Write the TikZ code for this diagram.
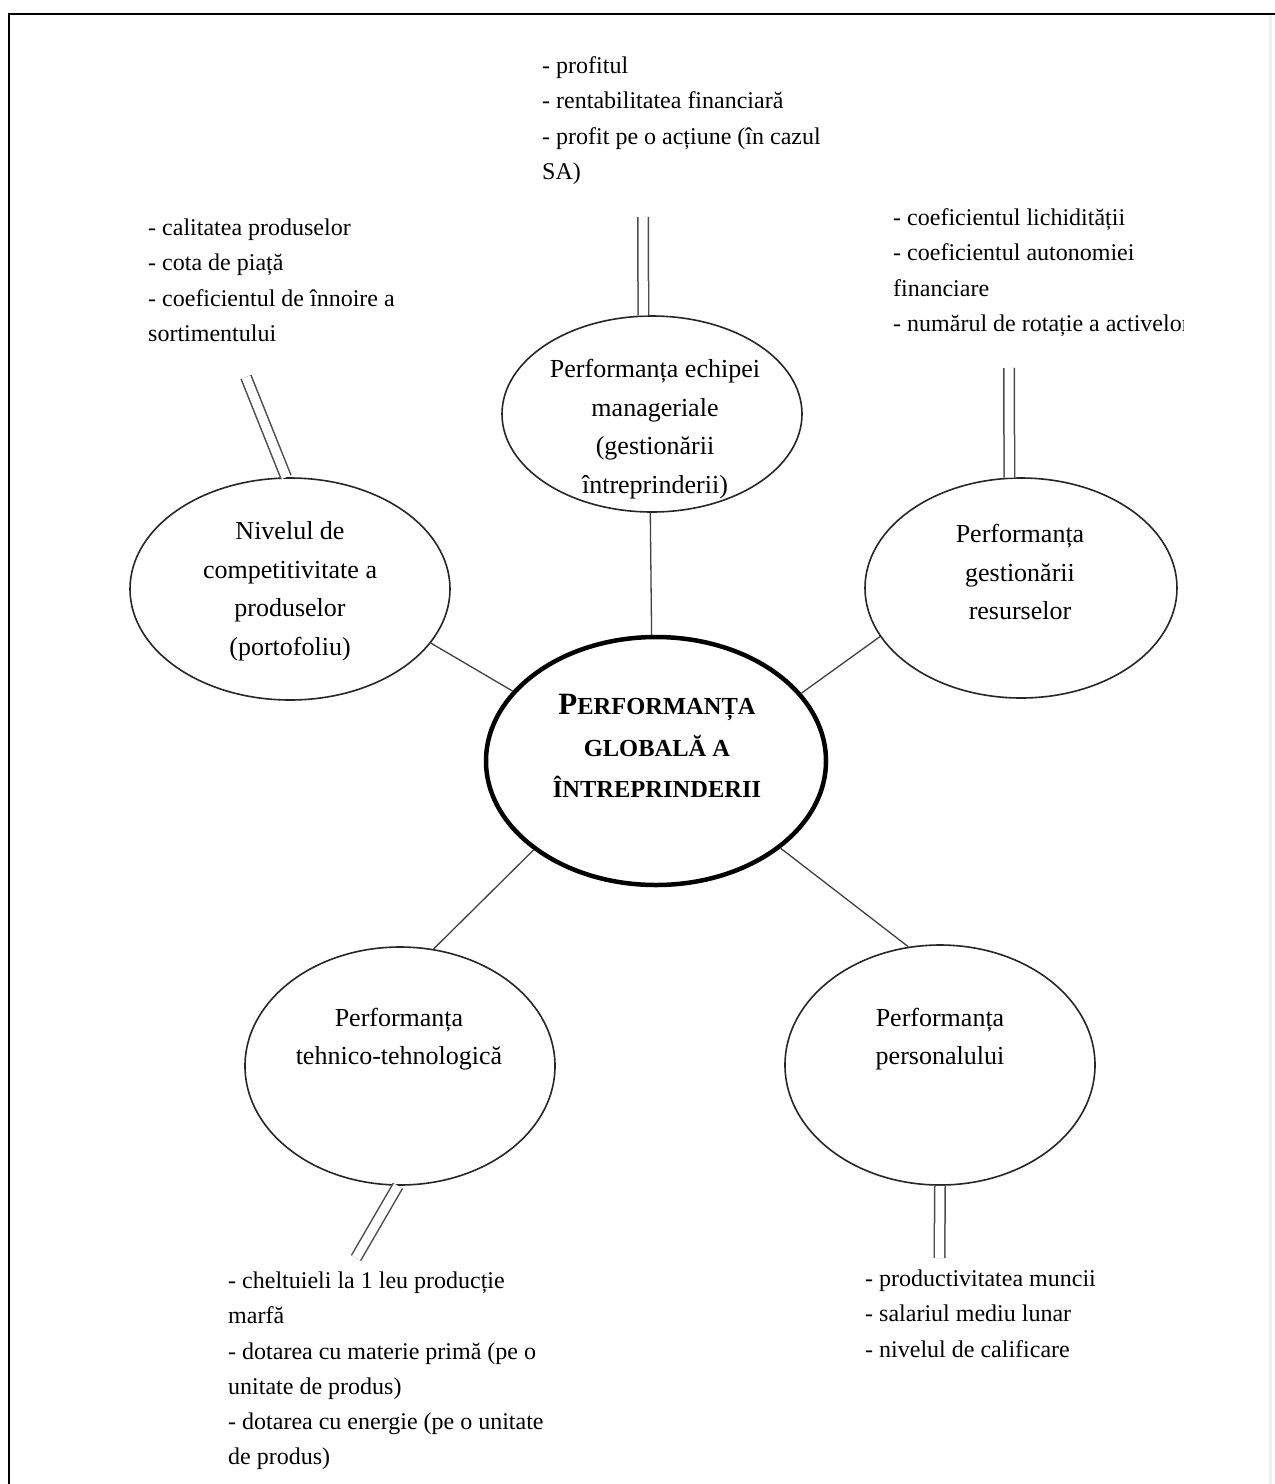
\documentclass[tikz,border=0pt]{standalone}
\usepackage{fontspec}
\setmainfont{Liberation Serif}
\usetikzlibrary{shapes.geometric}
\newcommand\initialcap[1]{{\fontsize{31}{41.5}\selectfont #1}}
\begin{document}
\begin{tikzpicture}[x=1pt,y=-1pt,
  oval/.style={ellipse, draw=black!85, line width=1.6pt, fill=white, inner sep=0pt},
  hub/.style={ellipse, draw=black, line width=4.5pt, fill=white, inner sep=0pt,
    minimum width=340pt, minimum height=248pt},
  ovaltext/.style={align=center, inner sep=0pt, font=\fontsize{26}{38.5}\selectfont},
  coretext/.style={align=center, inner sep=0pt, font=\bfseries\fontsize{24.5}{41.5}\selectfont},
  listtext/.style={align=left, inner sep=0pt, anchor=north west, font=\fontsize{24}{35.3}\selectfont},
  link/.style={draw=black!75, line width=1.3pt},
  twin/.style={draw=black!70, double=white, double distance=9pt, line width=1.5pt},
]
\useasboundingbox (0,0) rectangle (1275,1484);

% page frame
\draw[line width=2.3pt] (9,1484) -- (9,14) -- (1275,14);
\draw[draw={rgb,255:red,236;green,240;blue,245}, line width=3pt] (1270,15) -- (1270,1484);

% ovals
\node[hub] (core) at (656,761) {};
\node[oval, minimum width=300pt, minimum height=196pt] (mgmt) at (652,414) {};
\node[oval, minimum width=320pt, minimum height=222pt] (compet) at (290,589) {};
\node[oval, minimum width=312pt, minimum height=220pt] (resurse) at (1021,588) {};
\node[oval, minimum width=310pt, minimum height=238pt] (tehnic) at (400,1066) {};
\node[oval, minimum width=310pt, minimum height=240pt] (personal) at (940,1065) {};

% oval captions
\node[coretext] (core-t) at (657,746) {\initialcap{P}ERFORMANȚA\\GLOBALĂ A\\ÎNTREPRINDERII};
\node[ovaltext] (mgmt-t) at (655,429) {Performanța echipei\\manageriale\\(gestionării\\întreprinderii)};
\node[ovaltext] (compet-t) at (290,591) {Nivelul de\\competitivitate a\\produselor\\(portofoliu)};
\node[ovaltext] (resurse-t) at (1020,572) {Performanța\\gestionării\\resurselor};
\node[ovaltext] (tehnic-t) at (399,1039) {Performanța\\tehnico-tehnologică};
\node[ovaltext] (personal-t) at (940,1039) {Performanța\\personalului};

% links to the central oval
\draw[link] (mgmt.-91.2) -- (core.92.8);
\draw[link] (compet.-21.7) -- (core.154.6);
\draw[link] (resurse.-161.2) -- (core.25.4);
\draw[link] (tehnic.74.8) -- (core.-144.7);
\draw[link] (personal.105) -- (core.-35.5);

% double strokes to the indicator lists
\coordinate (mgmt-end) at (643,217);
\coordinate (compet-end) at (246,377);
\coordinate (resurse-end) at (1009,368);
\coordinate (tehnic-end) at (356,1258);
\coordinate (personal-end) at (939.5,1258);
\draw[twin] (mgmt-end) -- (mgmt.95.2);
\draw[twin] (compet-end) -- (compet.92);
\draw[twin] (resurse-end) -- (resurse.96.2);
\draw[twin] (tehnic-end) -- (tehnic.-91.2);
\draw[twin] (personal-end) -- (personal.-90);

% indicator lists
\node[listtext] (mgmt-list) at (542,48.5) {\strut- profitul\\- rentabilitatea financiară\\- profit pe o acțiune (în cazul\\SA)};
\node[listtext] (compet-list) at (148,210.5) {\strut- calitatea produselor\\- cota de piață\\- coeficientul de înnoire a\\sortimentului};
\begin{scope}
  \clip (0,0) rectangle (1183,1484);
  \node[listtext] (resurse-list) at (893,200.5) {\strut- coeficientul lichidității\\- coeficientul autonomiei\\financiare\\- numărul de rotație a activelor};
\end{scope}
\node[listtext] (tehnic-list) at (228,1263.5) {\strut- cheltuieli la 1 leu producție\\marfă\\- dotarea cu materie primă (pe o\\unitate de produs)\\- dotarea cu energie (pe o unitate\\de produs)};
\node[listtext] (personal-list) at (865,1261.5) {\strut- productivitatea muncii\\- salariul mediu lunar\\- nivelul de calificare};
\end{tikzpicture}
\end{document}
